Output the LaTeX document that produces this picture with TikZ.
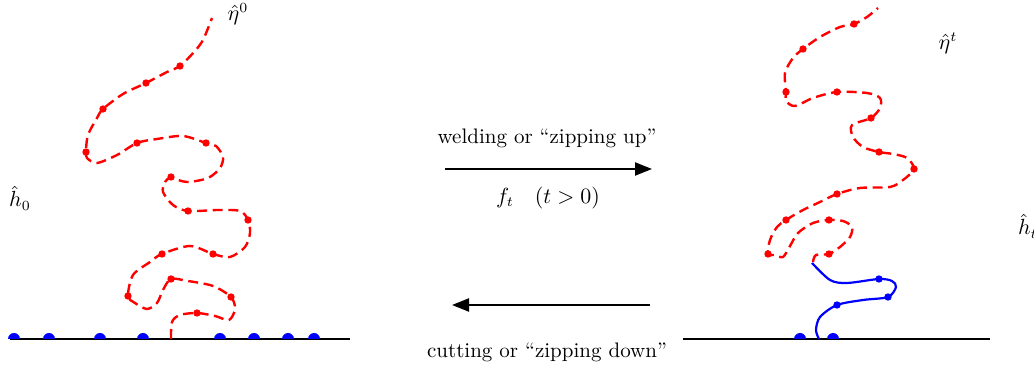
\documentclass[tikz,border=0pt]{standalone}
\usepackage{amsmath, amssymb}
\usepackage{tikz}
\usetikzlibrary{arrows.meta}

\begin{document}
\begin{tikzpicture}[x=0.5pt, y=-0.5pt,
    every node/.style={font=\fontsize{10.5}{12.5}\selectfont},
    trace/.style={red, line width=1.2pt, dash pattern=on 5pt off 2.8pt},
    zip/.style={blue, line width=1.1pt},
    ground/.style={black, line width=1.1pt},
    map/.style={line width=1.1pt, -{Triangle[length=8.5pt, width=6.5pt]}}]
    \useasboundingbox (0,0) rectangle (1034,368);

    % left: the curve before welding
    \draw[ground] (10,339) -- (350,339);
    \foreach \px in {14,49,100,143,220,254,288,314}
      \fill[blue] (\px,339) ++(-6,0) arc (180:360:6) -- cycle;
    \draw[trace] plot[smooth] coordinates {(171,339) (172,322) (180,315)
      (197,313) (215,316) (229,320) (235,309) (231,297) (213,286) (188,281)
      (171,279) (163,290) (157,303) (147,309) (135,303) (128,296) (133,275)
      (150,262) (162,254) (190,246) (213,254) (230,257) (245,247) (250,233)
      (248,220) (240,211) (218,210) (188,211) (173,205) (163,192) (165,182)
      (171,178) (187,182) (208,178) (220,168) (223,157) (216,146) (206,143)
      (183,136) (157,139) (137,143) (117,155) (97,163) (87,158) (86,151)
      (88,135) (97,118) (103,109) (123,94) (146,83) (167,72) (180,66)
      (194,52) (203,40) (212,18)};
    \foreach \px/\py in {197/313, 231/297, 171/279, 128/296, 162/254,
      213/254, 248/220, 188/211, 171/177, 206/143, 137/143, 86/152,
      103/109, 146/83, 180/66}
      \fill[red] (\px,\py) circle (3.7);
    \node (eta0) at (238,14) {$\hat{\eta}^0$};
    \node (h0) at (20,198) {$\hat{h}_0$};

    % middle: the two maps
    \coordinate (upA) at (445,169);
    \coordinate (upB) at (652,169);
    \coordinate (dnA) at (650,305);
    \coordinate (dnB) at (452,305);
    \draw[map] (upA) -- (upB);
    \draw[map] (dnA) -- (dnB);
    \node (weld) at (547,138) {welding or ``zipping up''};
    \node (ft) at (548,198) {$f_t \quad (t>0)$};
    \node (cut) at (547,352) {cutting or ``zipping down''};

    % right: the curve after welding
    \draw[ground] (683,339) -- (990,339);
    \foreach \px in {800,833}
      \fill[blue] (\px,339) ++(-6,0) arc (180:360:6) -- cycle;
    \draw[zip] plot[smooth] coordinates {(819,339) (816,330) (820,317)
      (837,305) (863,300) (888,297) (896,287) (892,281) (879,279)
      (847,283) (830,280) (812,263)};
    \foreach \px/\py in {837/305, 888/297, 879/279}
      \fill[blue] (\px,\py) circle (3.7);
    \draw[trace] plot[smooth] coordinates {(813,262) (816,255) (829,254)
      (840,247) (850,237) (852,227) (843,221) (829,220) (813,223) (798,233)
      (790,246) (783,257) (775,255) (768,254) (770,240) (777,227) (786,220)
      (803,210) (820,202) (837,194) (860,188) (890,187) (903,180) (914,169)
      (907,158) (893,154) (879,152) (863,147) (853,137) (852,125) (871,118)
      (880,108) (880,98) (867,93) (837,92) (813,98) (795,106) (786,101)
      (786,92) (785,73) (793,58) (803,49) (820,37) (840,27) (854,24)
      (867,17) (878,8)};
    \foreach \px/\py in {829/254, 829/220, 768/254, 786/220, 837/194,
      914/169, 879/152, 871/118, 837/92, 786/92, 803/49, 854/24}
      \fill[red] (\px,\py) circle (3.7);
    \node (etat) at (948,43) {$\hat{\eta}^t$};
    \node[anchor=west] (ht) at (1011,226) {$\hat{h}_t$};
  \end{tikzpicture}
\end{document}
